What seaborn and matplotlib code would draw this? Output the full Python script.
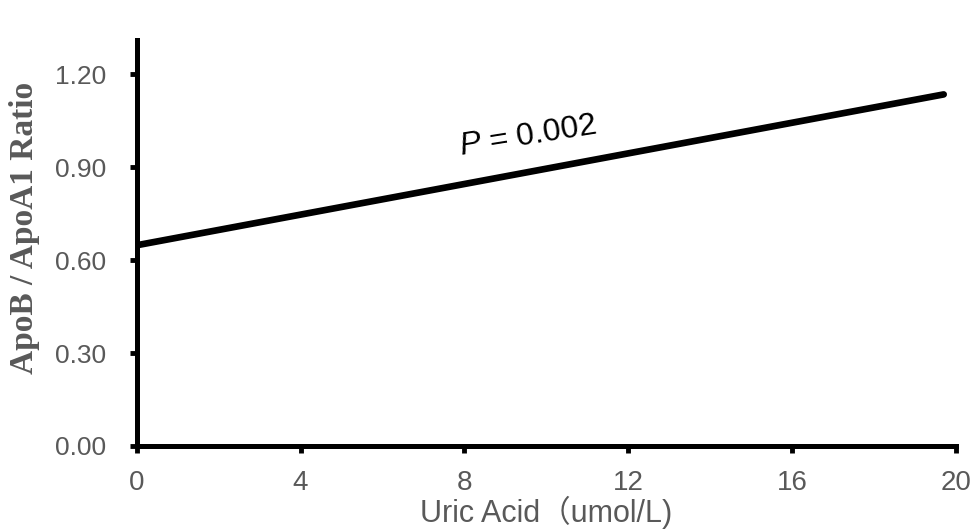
import matplotlib
matplotlib.use("Agg")
import matplotlib.pyplot as plt
import seaborn as sns
import pandas as pd

# data
uric_acid = [0.0, 19.7]
ratio = [0.648, 1.135]
x_ticks = [0, 4, 8, 12, 16, 20]
y_ticks = [0.00, 0.30, 0.60, 0.90, 1.20]
y_tick_labels = ["0.00", "0.30", "0.60", "0.90", "1.20"]
annotation = "$P$ = 0.002"

sns.set_theme(style="white")
plt.rcParams["font.family"] = ["Liberation Sans", "DejaVu Sans"]
plt.rcParams["mathtext.fontset"] = "custom"
plt.rcParams["mathtext.it"] = "Liberation Sans:italic"
plt.rcParams["mathtext.rm"] = "Liberation Sans"

df = pd.DataFrame({"x": uric_acid, "y": ratio})

fig = plt.figure(figsize=(9.77, 5.29), dpi=100)
ax = fig.add_axes([0.140, 0.157, 0.8385, 0.767])
sns.lineplot(data=df, x="x", y="y", ax=ax, color="black", linewidth=4.8,
             solid_capstyle="round")

ax.set_xlim(0, 20)
ax.set_ylim(0, 1.31)
ax.set_xticks(x_ticks)
ax.set_yticks(y_ticks)
ax.set_yticklabels(y_tick_labels)

gray = "#595959"
for lab in ax.get_xticklabels():
    lab.set_fontsize(20)
    lab.set_color(gray)
for lab in ax.get_yticklabels():
    lab.set_fontsize(19)
    lab.set_color(gray)

ax.tick_params(axis="x", direction="out", length=5, width=3.5, color="black",
               bottom=True, pad=12)
ax.tick_params(axis="y", direction="out", length=5, width=3.5, color="black",
               left=True, pad=17)

for s in ["top", "right"]:
    ax.spines[s].set_visible(False)
for s in ["left", "bottom"]:
    ax.spines[s].set_linewidth(3.6)
    ax.spines[s].set_color("black")

ax.set_xlabel("Uric Acid（umol/L)", fontsize=22, color=gray,
              family=["Liberation Sans", "Noto Sans CJK SC"])
ax.xaxis.set_label_coords(0.5, -0.122)
ax.set_ylabel("ApoB / ApoA1 Ratio", fontsize=24, color=gray,
              family=["Liberation Serif"], fontweight="bold")
ax.yaxis.set_label_coords(-0.118, 0.538)

ax.text(7.91, 0.939, annotation, fontsize=23, color="black",
        rotation=9, rotation_mode="anchor", ha="left", va="baseline")

fig.savefig("out.png", dpi=100)
